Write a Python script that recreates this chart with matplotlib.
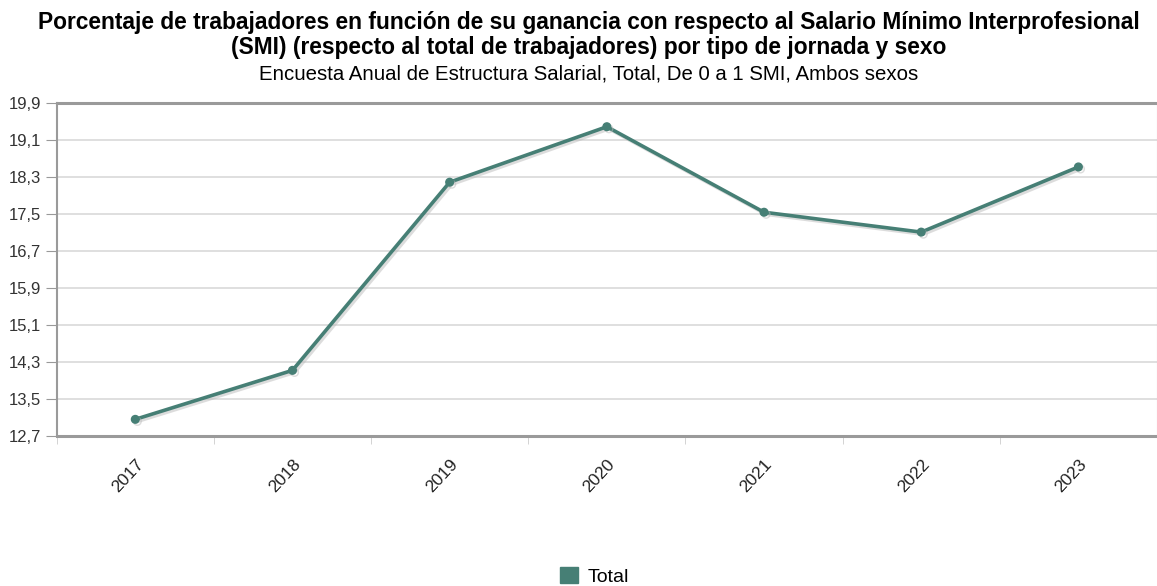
import matplotlib
matplotlib.use("Agg")
import matplotlib.pyplot as plt
import matplotlib.patheffects as pe
from matplotlib.patches import Patch
import numpy as np

plt.rcParams['font.family'] = ['Liberation Sans', 'DejaVu Sans']

# data
years = ['2017', '2018', '2019', '2020', '2021', '2022', '2023']
total = [13.06, 14.12, 18.19, 19.39, 17.54, 17.11, 18.52]
yticks = [12.7, 13.5, 14.3, 15.1, 15.9, 16.7, 17.5, 18.3, 19.1, 19.9]
ytick_labels = ['12,7', '13,5', '14,3', '15,1', '15,9', '16,7', '17,5', '18,3', '19,1', '19,9']

line_color = '#467f75'

fig = plt.figure(figsize=(11.57, 5.86), dpi=100)
ax = fig.add_axes([0.049, 0.256, 0.951, 0.568])

x = np.arange(len(years))
ax.plot(x, total, color=line_color, lw=2.6, marker='o', ms=5.5,
        path_effects=[pe.SimpleLineShadow(offset=(1.5, -1.5), shadow_color='#bbbbbb', alpha=0.5),
                      pe.Normal()], zorder=3)

ax.set_xlim(-0.5, len(years) - 0.5)
ax.set_ylim(12.7, 19.9)
ax.set_yticks(yticks)
ax.set_yticklabels(ytick_labels, fontsize=12, color='#333333')
ax.set_xticks(x)
ax.set_xticklabels(years, rotation=47, ha='right', rotation_mode='anchor',
                   fontsize=12.5, color='#222222')
ax.tick_params(axis='x', length=0, pad=15)
ax.set_xticks(np.arange(-0.5, len(years), 1), minor=True)
ax.tick_params(axis='x', which='minor', length=6, color='#cccccc')
ax.tick_params(axis='y', length=8, color='#999999', pad=3)

ax.grid(axis='y', color='#d9d9d9', lw=1.2)
ax.set_axisbelow(True)
for side in ['top', 'bottom']:
    ax.spines[side].set_color('#9a9a9a')
    ax.spines[side].set_linewidth(2.2)
ax.spines['left'].set_color('#9a9a9a')
ax.spines['left'].set_linewidth(1.5)
ax.spines['right'].set_color('#cccccc')

fig.text(0.509, 0.962, 'Porcentaje de trabajadores en función de su ganancia con respecto al Salario Mínimo Interprofesional',
         ha='center', va='center', fontsize=16.4, fontweight='bold')
fig.text(0.509, 0.919, '(SMI) (respecto al total de trabajadores) por tipo de jornada y sexo',
         ha='center', va='center', fontsize=16.4, fontweight='bold')
fig.text(0.509, 0.873, 'Encuesta Anual de Estructura Salarial, Total, De 0 a 1 SMI, Ambos sexos',
         ha='center', va='center', fontsize=14.7)

fig.legend(handles=[Patch(color=line_color, label='Total')], loc='center',
           bbox_to_anchor=(0.514, 0.017), frameon=False, fontsize=14,
           handlelength=0.95, handleheight=0.95, handletextpad=0.5)

fig.savefig('out.png', dpi=100)
